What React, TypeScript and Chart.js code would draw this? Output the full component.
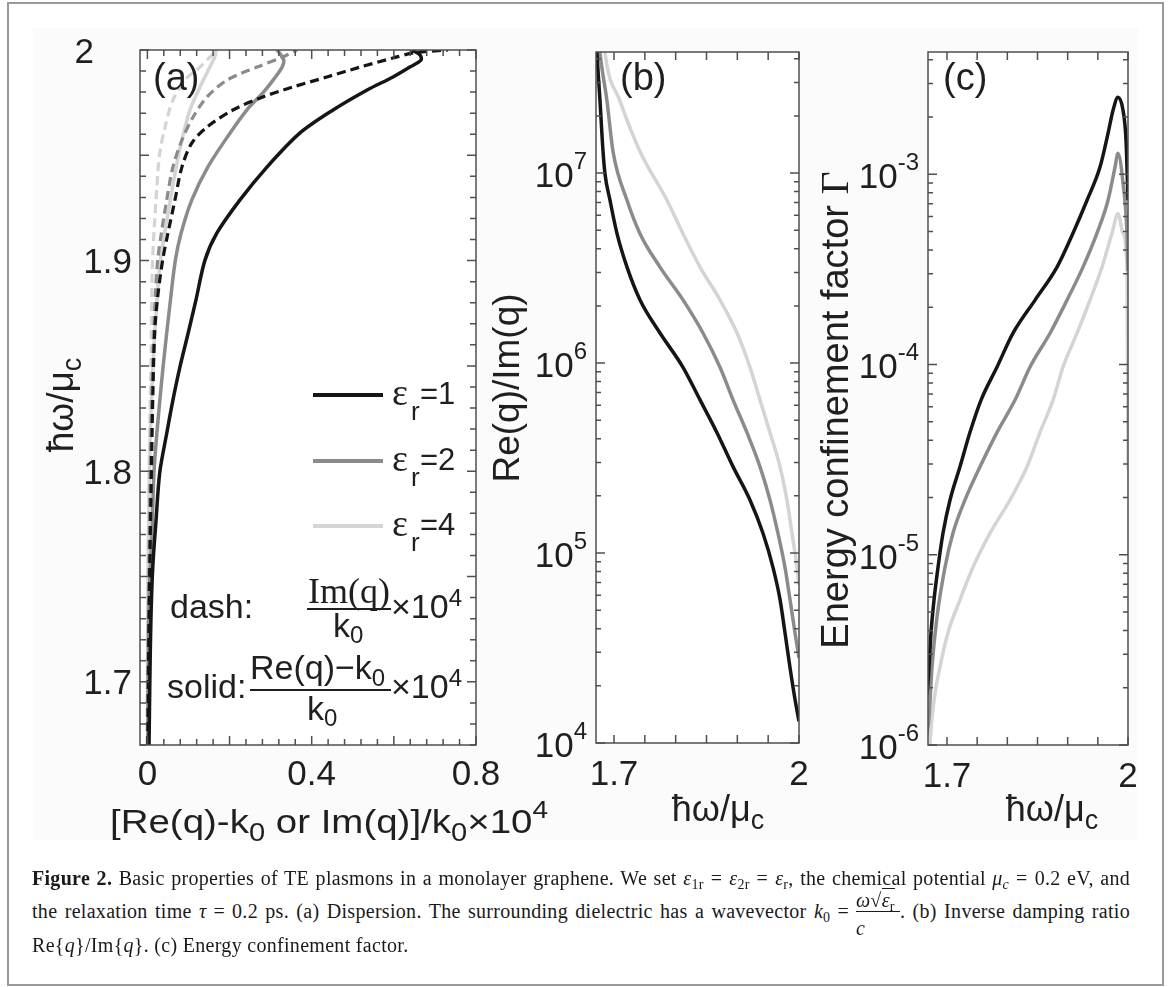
import React, { useEffect, useRef } from "react";
import { Chart, registerables } from "chart.js";

Chart.register(...registerables);

// ---------------- data ----------------
// (a) dispersion: vertical = ħω/μc, horizontal = [Re(q)-k0 or Im(q)]/k0 ×10^4
const aEps1SolidW = [1.67, 1.7004, 1.729, 1.7542, 1.7765, 1.7993, 1.8179, 1.8336, 1.8493, 1.8654, 1.8811, 1.9001, 1.913, 1.9287, 1.9444, 1.9605, 1.9715, 1.981, 1.9872, 1.9919, 1.9952, 1.9976, 2.0];
const aEps1SolidV = [0.004, 0.006, 0.0085, 0.013, 0.021, 0.03, 0.047, 0.062, 0.079, 0.099, 0.118, 0.14, 0.169, 0.225, 0.291, 0.371, 0.452, 0.535, 0.598, 0.639, 0.666, 0.664, 0.644];
const aEps1DashW = [1.67, 1.729, 1.786, 1.8336, 1.8669, 1.8844, 1.9001, 1.913, 1.9287, 1.9444, 1.9558, 1.9634, 1.9715, 1.9777, 1.9824, 1.9872, 1.9919, 1.9962, 1.9986, 2.0];
const aEps1DashV = [0.001, 0.004, 0.0085, 0.013, 0.018, 0.026, 0.037, 0.05, 0.067, 0.084, 0.108, 0.145, 0.208, 0.281, 0.354, 0.437, 0.518, 0.598, 0.647, 0.732];
const aEps2SolidW = [1.67, 1.7385, 1.7703, 1.7993, 1.8179, 1.8493, 1.8811, 1.9001, 1.913, 1.9287, 1.9444, 1.9605, 1.9715, 1.9796, 1.9857, 1.9919, 1.9952, 1.999, 2.0];
const aEps2SolidV = [0.001, 0.004, 0.011, 0.016, 0.023, 0.038, 0.056, 0.068, 0.082, 0.108, 0.147, 0.201, 0.242, 0.281, 0.306, 0.328, 0.332, 0.32, 0.315];
const aEps2DashW = [1.67, 1.7385, 1.8098, 1.8573, 1.8859, 1.9001, 1.913, 1.9287, 1.9444, 1.9572, 1.9681, 1.9777, 1.9857, 1.9919, 1.9967, 2.0];
const aEps2DashV = [0.001, 0.003, 0.008, 0.014, 0.02, 0.025, 0.034, 0.047, 0.062, 0.084, 0.111, 0.145, 0.194, 0.267, 0.33, 0.364];
const aEps4SolidW = [1.67, 1.7385, 1.8003, 1.8336, 1.8654, 1.8968, 1.913, 1.9287, 1.9444, 1.9572, 1.9715, 1.9824, 1.9919, 1.9967, 2.0];
const aEps4SolidV = [0.0005, 0.001, 0.005, 0.01, 0.018, 0.03, 0.042, 0.056, 0.07, 0.084, 0.1035, 0.128, 0.152, 0.164, 0.167];
const aEps4DashW = [1.67, 1.7385, 1.8098, 1.8573, 1.8968, 1.913, 1.9349, 1.951, 1.9634, 1.9762, 1.9867, 1.9919, 2.0];
const aEps4DashV = [-0.001, 0.001, 0.005, 0.009, 0.012, 0.016, 0.023, 0.03, 0.043, 0.062, 0.096, 0.128, 0.169];

// (b) inverse damping ratio Re(q)/Im(q) vs ħω/μc
const bEps1X = [1.6708, 1.6724, 1.6773, 1.6822, 1.6854, 1.6935, 1.7049, 1.7211, 1.7422, 1.7746, 1.8119, 1.8395, 1.867, 1.893, 1.9205, 1.9416, 1.9578, 1.9692, 1.9773, 1.9854, 1.9935, 2.0];
const bEps1Y = [5.7e7, 4.3e7, 2.4e7, 1.3e7, 9.9e6, 7.2e6, 4.8e6, 3.2e6, 2.15e6, 1.44e6, 9.5e5, 6.4e5, 4.3e5, 2.85e5, 1.9e5, 1.27e5, 8.4e4, 5.7e4, 3.8e4, 2.5e4, 1.7e4, 1.3e4];
const bEps2X = [1.6741, 1.6773, 1.6886, 1.6984, 1.7211, 1.7422, 1.7746, 1.8119, 1.8443, 1.8719, 1.893, 1.9157, 1.9367, 1.953, 1.9659, 1.9773, 1.9854, 1.9935, 2.0];
const bEps2Y = [5.7e7, 4.3e7, 2.4e7, 1.3e7, 7.2e6, 4.8e6, 3.2e6, 2.15e6, 1.44e6, 9.5e5, 6.4e5, 4.3e5, 2.85e5, 1.9e5, 1.27e5, 8.4e4, 5.7e4, 3.8e4, 2.8e4];
const bEps4X = [1.6822, 1.6854, 1.7097, 1.7422, 1.7859, 1.8119, 1.8395, 1.8719, 1.8995, 1.9205, 1.9367, 1.953, 1.9692, 1.9805, 1.9886, 1.9968, 2.0];
const bEps4Y = [5.7e7, 4.3e7, 2.4e7, 1.3e7, 7.2e6, 4.8e6, 3.2e6, 2.15e6, 1.44e6, 9.5e5, 6.4e5, 4.3e5, 2.85e5, 1.9e5, 1.27e5, 8.4e4, 6.8e4];

// (c) energy confinement factor Γ vs ħω/μc
const cEps1X = [1.6652, 1.6685, 1.6735, 1.6785, 1.6851, 1.6934, 1.705, 1.7215, 1.7381, 1.7564, 1.7829, 1.8094, 1.8459, 1.8823, 1.9088, 1.9321, 1.9536, 1.9669, 1.9752, 1.9834, 1.9917, 1.9967, 2.0];
const cEps1Y = [1.7e-6, 2.1e-6, 3.9e-6, 5.8e-6, 8.6e-6, 1.3e-5, 1.94e-5, 2.9e-5, 4.4e-5, 6.5e-5, 9.7e-5, 1.46e-4, 2.18e-4, 3.25e-4, 4.9e-4, 7.3e-4, 1.09e-3, 1.64e-3, 2.17e-3, 2.54e-3, 2.17e-3, 1.51e-3, 7.3e-4];
const cEps2X = [1.6652, 1.6702, 1.6751, 1.6834, 1.6967, 1.7099, 1.7298, 1.7547, 1.7829, 1.8127, 1.8376, 1.8707, 1.8989, 1.9254, 1.9486, 1.9669, 1.9785, 1.9834, 1.9917, 1.9983, 2.0];
const cEps2Y = [1.06e-6, 1.4e-6, 2.57e-6, 4.7e-6, 8.6e-6, 1.3e-5, 1.94e-5, 2.9e-5, 4.4e-5, 6.5e-5, 9.7e-5, 1.46e-4, 2.18e-4, 3.25e-4, 4.9e-4, 7.3e-4, 1.09e-3, 1.29e-3, 9.0e-4, 4.9e-4, 3.1e-4];
const cEps4X = [1.6702, 1.6718, 1.6785, 1.6884, 1.7017, 1.7215, 1.743, 1.7713, 1.8044, 1.8326, 1.8542, 1.8757, 1.8923, 1.9155, 1.937, 1.9569, 1.9735, 1.9834, 1.9917, 1.9983, 2.0];
const cEps4Y = [8.0e-7, 1.03e-6, 1.72e-6, 2.57e-6, 3.9e-6, 5.8e-6, 8.6e-6, 1.3e-5, 1.94e-5, 2.9e-5, 4.4e-5, 6.5e-5, 9.7e-5, 1.46e-4, 2.18e-4, 3.25e-4, 4.9e-4, 6.2e-4, 4.9e-4, 3.25e-4, 2.8e-5];

// tick labels
const aXTickValues = [0, 0.4, 0.8];
const aXTickLabels = ["0", "0.4", "0.8"];
const aYTickValues = [1.7, 1.8, 1.9, 2.0];
const aYTickLabels = ["1.7", "1.8", "1.9", "2"];
const bcXTickValues = [1.7, 2.0];
const bcXTickLabels = ["1.7", "2"];
const bDecades = [4, 5, 6, 7];
const cDecades = [-6, -5, -4, -3];
const legendLabels = ["1", "2", "4"];

// ---------------- styles ----------------
const BLACK = "#151515";
const GRAY = "#8b8b8b";
const LIGHT = "#d4d4d4";
const TXT = "#1f1f1f";
const FRAME = "#4f4f4f";
const sans = (s: number) => `${s}px "Liberation Sans", Arial, Helvetica, sans-serif`;
const serif = (s: number) => `${s}px "Liberation Serif", "Times New Roman", serif`;
const CW = 1171;
const CH = 860;

type Run = { t: string; f: string; dy?: number };

function drawRuns(ctx: any, runs: Run[], x: number, y: number, align = "left", fitW?: number) {
  let w = 0;
  for (const r of runs) {
    ctx.font = r.f;
    w += ctx.measureText(r.t).width;
  }
  const sx = fitW ? fitW / w : 1;
  const tw = w * sx;
  const x0 = align === "left" ? x : align === "center" ? x - tw / 2 : x - tw;
  ctx.save();
  ctx.translate(x0, y);
  ctx.scale(sx, 1);
  ctx.textAlign = "left";
  ctx.textBaseline = "alphabetic";
  ctx.fillStyle = TXT;
  let cx = 0;
  for (const r of runs) {
    ctx.font = r.f;
    ctx.fillText(r.t, cx, r.dy || 0);
    cx += ctx.measureText(r.t).width;
  }
  ctx.restore();
}

function drawRunsV(ctx: any, runs: Run[], x: number, cy: number) {
  ctx.save();
  ctx.translate(x, cy);
  ctx.rotate(-Math.PI / 2);
  drawRuns(ctx, runs, 0, 0, "center");
  ctx.restore();
}

type Tick = { v: number; len: number };

function linTicks(from: number, to: number, step: number, majorEvery: number, maj: number, min: number): Tick[] {
  const out: Tick[] = [];
  const n = Math.round((to - from) / step);
  for (let i = 0; i <= n; i++) {
    const v = from + i * step;
    const k = Math.round(v / step);
    out.push({ v, len: k % majorEvery === 0 ? maj : min });
  }
  return out;
}

function logTicks(decades: number[], max: number): Tick[] {
  const out: Tick[] = [];
  for (const d of decades) {
    for (let k = 1; k <= 9; k++) {
      const v = k * Math.pow(10, d);
      if (v <= max * 1.0001) out.push({ v, len: k === 1 ? 9 : 5 });
    }
  }
  return out;
}

function drawFrameAndTicks(chart: any, xt: Tick[], yt: Tick[]) {
  const ctx = chart.ctx;
  const { left, right, top, bottom } = chart.chartArea;
  const xs = chart.scales.x;
  const ys = chart.scales.y;
  ctx.save();
  ctx.strokeStyle = FRAME;
  ctx.lineWidth = 1.5;
  ctx.beginPath();
  for (const t of xt) {
    const px = xs.getPixelForValue(t.v);
    if (px < left - 0.5 || px > right + 0.5) continue;
    ctx.moveTo(px, bottom);
    ctx.lineTo(px, bottom - t.len);
    ctx.moveTo(px, top);
    ctx.lineTo(px, top + t.len);
  }
  for (const t of yt) {
    const py = ys.getPixelForValue(t.v);
    if (py < top - 0.5 || py > bottom + 0.5) continue;
    ctx.moveTo(left, py);
    ctx.lineTo(left + t.len, py);
    ctx.moveTo(right, py);
    ctx.lineTo(right - t.len, py);
  }
  ctx.stroke();
  ctx.strokeRect(left, top, right - left, bottom - top);
  ctx.restore();
}

function lineDs(xs: number[], ys: number[], color: string, width: number, dash: number[], mono: boolean) {
  const base: any = {
    data: xs.map((x, i) => ({ x, y: ys[i] })),
    showLine: true,
    borderColor: color,
    backgroundColor: color,
    borderWidth: width,
    borderDash: dash,
    pointRadius: 0,
    pointHoverRadius: 0,
    fill: false,
    borderCapStyle: "butt",
    borderJoinStyle: "round",
  };
  if (mono) base.cubicInterpolationMode = "monotone";
  else base.tension = 0.3;
  return base;
}

function buildChart(canvas: HTMLCanvasElement, datasets: any[], xOpt: any, yOpt: any, padding: any, deco: (c: any) => void) {
  return new Chart(canvas, {
    type: "scatter",
    data: { datasets },
    options: {
      responsive: false,
      maintainAspectRatio: false,
      animation: false,
      events: [],
      layout: { padding },
      plugins: { legend: { display: false }, tooltip: { enabled: false } },
      scales: { x: { ...xOpt, display: false }, y: { ...yOpt, display: false } },
    } as any,
    plugins: [
      {
        id: "deco",
        beforeDraw(chart: any) {
          const { left, top, right, bottom } = chart.chartArea;
          chart.ctx.save();
          chart.ctx.fillStyle = "#ffffff";
          chart.ctx.fillRect(left, top, right - left, bottom - top);
          chart.ctx.restore();
        },
        afterDraw(chart: any) {
          deco(chart);
        },
      },
    ],
  });
}

function decoA(chart: any) {
  const ctx = chart.ctx;
  const { left, bottom } = chart.chartArea;
  const xs = chart.scales.x;
  const ys = chart.scales.y;
  drawFrameAndTicks(chart, linTicks(0, 0.8, 0.04, 5, 9, 6), linTicks(1.67, 2.0, 0.01, 5, 9, 6));
  aXTickValues.forEach((v, i) => drawRuns(ctx, [{ t: aXTickLabels[i], f: sans(35) }], xs.getPixelForValue(v), bottom + 40, "center"));
  aYTickValues.forEach((v, i) => {
    const shift = i === aYTickValues.length - 1 ? -38 : 0;
    drawRuns(ctx, [{ t: aYTickLabels[i], f: sans(35) }], left - 8 + shift, ys.getPixelForValue(v) + 12.5, "right");
  });
  // axis titles
  drawRuns(
    ctx,
    [
      { t: "[Re(q)-k", f: sans(33) },
      { t: "0", f: sans(25), dy: 8 },
      { t: " or Im(q)]/k", f: sans(33) },
      { t: "0", f: sans(25), dy: 8 },
      { t: "×10", f: sans(33) },
      { t: "4", f: sans(24), dy: -15 },
    ],
    110,
    833,
    "left",
    438
  );
  drawRunsV(ctx, [{ t: "ħω/μ", f: sans(37) }, { t: "c", f: sans(27), dy: 8 }], 73, 405);
  // panel label
  drawRuns(ctx, [{ t: "(a)", f: sans(38) }], 153, 90);
  // legend
  const colors = [BLACK, GRAY, LIGHT];
  const rows = [395, 461, 526];
  ctx.save();
  ctx.lineWidth = 4;
  rows.forEach((y, i) => {
    ctx.strokeStyle = colors[i];
    ctx.beginPath();
    ctx.moveTo(313, y);
    ctx.lineTo(383, y);
    ctx.stroke();
  });
  ctx.restore();
  rows.forEach((y, i) => {
    drawRuns(ctx, [{ t: "ε", f: serif(38) }], 392, y + 10);
    drawRuns(ctx, [{ t: "r", f: sans(26) }], 411, y + 25);
    drawRuns(ctx, [{ t: "=" + legendLabels[i], f: sans(31) }], 420, y + 9);
  });
  // dash / solid annotation
  drawRuns(ctx, [{ t: "dash:", f: sans(34) }], 170, 618);
  drawRuns(ctx, [{ t: "Im(q)", f: serif(36) }], 349, 603, "center");
  drawRuns(ctx, [{ t: "k", f: sans(34) }, { t: "0", f: sans(24), dy: 6 }], 333, 637);
  drawRuns(ctx, [{ t: "×10", f: sans(34) }, { t: "4", f: sans(24), dy: -12 }], 391, 618);
  drawRuns(ctx, [{ t: "solid:", f: sans(34) }], 167, 698);
  drawRuns(ctx, [{ t: "Re(q)−k", f: sans(34) }, { t: "0", f: sans(24), dy: 7 }], 250, 679);
  drawRuns(ctx, [{ t: "k", f: sans(34) }, { t: "0", f: sans(24), dy: 6 }], 307, 720);
  drawRuns(ctx, [{ t: "×10", f: sans(34) }, { t: "4", f: sans(24), dy: -12 }], 391, 698);
  ctx.save();
  ctx.strokeStyle = TXT;
  ctx.lineWidth = 2;
  ctx.beginPath();
  ctx.moveTo(307, 609);
  ctx.lineTo(391, 609);
  ctx.moveTo(250, 690);
  ctx.lineTo(391, 690);
  ctx.stroke();
  ctx.restore();
}

function decoLog(chart: any, decades: number[], max: number, yTitle: Run[], yTitleX: number, yTitleY: number, xTitleX: number, label: string, labelX: number) {
  const ctx = chart.ctx;
  const { left, bottom } = chart.chartArea;
  const xs = chart.scales.x;
  const ys = chart.scales.y;
  drawFrameAndTicks(chart, linTicks(1.7, 2.0, 0.05, 1, 8, 8), logTicks(decades, max));
  bcXTickValues.forEach((v, i) => drawRuns(ctx, [{ t: bcXTickLabels[i], f: sans(35) }], xs.getPixelForValue(v), bottom + 42, "center"));
  decades.forEach((d) => {
    const py = ys.getPixelForValue(Math.pow(10, d));
    drawRuns(ctx, [{ t: "10", f: sans(35) }, { t: String(d), f: sans(24), dy: -18 }], left - 9, py + 14, "right");
  });
  drawRunsV(ctx, yTitle, yTitleX, yTitleY);
  drawRuns(ctx, [{ t: "ħω/μ", f: sans(36) }, { t: "c", f: sans(27), dy: 8 }], xTitleX, 821, "center");
  drawRuns(ctx, [{ t: label, f: sans(38) }], labelX, 90);
}

const bYMax = 4.34e7;
const cYMax = 4.39e-3;

export default function App() {
  const ra = useRef<HTMLCanvasElement>(null);
  const rb = useRef<HTMLCanvasElement>(null);
  const rc = useRef<HTMLCanvasElement>(null);

  useEffect(() => {
    const dsA = [
      lineDs(aEps1SolidV, aEps1SolidW, BLACK, 3.5, [], false),
      lineDs(aEps1DashV, aEps1DashW, BLACK, 3.2, [9, 5], false),
      lineDs(aEps2SolidV, aEps2SolidW, GRAY, 3.5, [], false),
      lineDs(aEps2DashV, aEps2DashW, GRAY, 3.2, [9, 5], false),
      lineDs(aEps4SolidV, aEps4SolidW, LIGHT, 3.5, [], false),
      lineDs(aEps4DashV, aEps4DashW, LIGHT, 3.2, [9, 5], false),
    ];
    const chA = buildChart(
      ra.current!,
      dsA,
      { type: "linear", min: -0.018, max: 0.8 },
      { type: "linear", min: 1.67, max: 2.0 },
      { left: 140, top: 50, right: CW - 476, bottom: CH - 745 },
      decoA
    );
    const dsB = [
      lineDs(bEps1X, bEps1Y, BLACK, 3.5, [], true),
      lineDs(bEps2X, bEps2Y, GRAY, 3.5, [], true),
      lineDs(bEps4X, bEps4Y, LIGHT, 3.5, [], true),
    ];
    const chB = buildChart(
      rb.current!,
      dsB,
      { type: "linear", min: 1.6708, max: 2.0 },
      { type: "logarithmic", min: 1e4, max: bYMax },
      { left: 596, top: 52, right: CW - 799, bottom: CH - 743 },
      (c: any) => decoLog(c, bDecades, bYMax, [{ t: "Re(q)/Im(q)", f: sans(37) }], 519, 388, 718, "(b)", 620)
    );
    const dsC = [
      lineDs(cEps1X, cEps1Y, BLACK, 3.5, [], true),
      lineDs(cEps2X, cEps2Y, GRAY, 3.5, [], true),
      lineDs(cEps4X, cEps4Y, LIGHT, 3.5, [], true),
    ];
    const chC = buildChart(
      rc.current!,
      dsC,
      { type: "linear", min: 1.6685, max: 2.0 },
      { type: "logarithmic", min: 1e-6, max: cYMax },
      { left: 928, top: 52, right: CW - 1128, bottom: CH - 745 },
      (c: any) =>
        decoLog(c, cDecades, cYMax, [{ t: "Energy confinement factor ", f: sans(38) }, { t: "Γ", f: serif(40) }], 848, 410, 1052, "(c)", 943)
    );
    return () => {
      chA.destroy();
      chB.destroy();
      chC.destroy();
    };
  }, []);

  const canvasStyle: any = { position: "absolute", left: 0, top: 0, width: CW, height: CH };
  const lineStyle: any = {
    position: "absolute",
    left: 32,
    width: 1098,
    whiteSpace: "nowrap",
    fontFamily: '"Liberation Serif", "Times New Roman", serif',
    fontSize: 20,
    letterSpacing: "0.3px",
    lineHeight: 1,
    color: "#1a1a1a",
  };
  const just: any = { textAlign: "justify", textAlignLast: "justify" };
  const Sub = ({ children }: any) => (
    <span style={{ fontSize: "0.7em", position: "relative", top: "0.3em" }}>{children}</span>
  );
  const EQ = "\u2004=\u2004";

  return (
    <div style={{ position: "fixed", left: 0, top: 0, width: CW, height: 987, background: "#ffffff", overflow: "hidden" }}>
      <div style={{ position: "absolute", left: 33, top: 28, width: 1105, height: 812, background: "#fbfbfb" }} />
      <canvas ref={ra} width={CW} height={CH} style={canvasStyle} />
      <canvas ref={rb} width={CW} height={CH} style={canvasStyle} />
      <canvas ref={rc} width={CW} height={CH} style={canvasStyle} />

      <div style={{ ...lineStyle, ...just, top: 884 - 16 }}>
        <b>Figure 2.</b> Basic properties of TE plasmons in a monolayer graphene. We set <i>ε</i>
        <Sub>1r</Sub>
        {EQ}
        <i>ε</i>
        <Sub>2r</Sub>
        {EQ}
        <i>ε</i>
        <Sub>r</Sub>, the chemical potential <i>μ</i>
        <Sub>
          <i>c</i>
        </Sub>
        {EQ}0.2 eV, and
      </div>
      <div style={{ ...lineStyle, ...just, top: 917 - 16 }}>
        the relaxation time <i>τ</i>
        {EQ}0.2 ps. (a) Dispersion. The surrounding dielectric has a wavevector <i>k</i>
        <Sub>0</Sub>
        {EQ}
        <span style={{ display: "inline-block", position: "relative", width: 44, height: 1 }}>
          <span style={{ position: "absolute", left: 0, width: "100%", bottom: 8, textAlign: "center", whiteSpace: "nowrap", lineHeight: 1 }}>
            <i>ω</i>√<span style={{ borderTop: "1px solid #1a1a1a" }}><i>ε</i><Sub>r</Sub></span>
          </span>
          <span style={{ position: "absolute", left: 0, width: "100%", top: -6, borderTop: "1px solid #1a1a1a" }} />
          <span style={{ position: "absolute", left: 0, width: "100%", top: 1, textAlign: "center", lineHeight: 1 }}>
            <i>c</i>
          </span>
        </span>
        . (b) Inverse damping ratio
      </div>
      <div style={{ ...lineStyle, top: 951 - 16 }}>
        Re{"{"}
        <i>q</i>
        {"}"}/Im{"{"}
        <i>q</i>
        {"}"}. (c) Energy confinement factor.
      </div>

      <div
        style={{
          position: "absolute",
          left: 7,
          top: 2,
          width: 1157,
          height: 984,
          boxSizing: "border-box",
          border: "2px solid #9a9a9a",
          pointerEvents: "none",
        }}
      />
    </div>
  );
}
